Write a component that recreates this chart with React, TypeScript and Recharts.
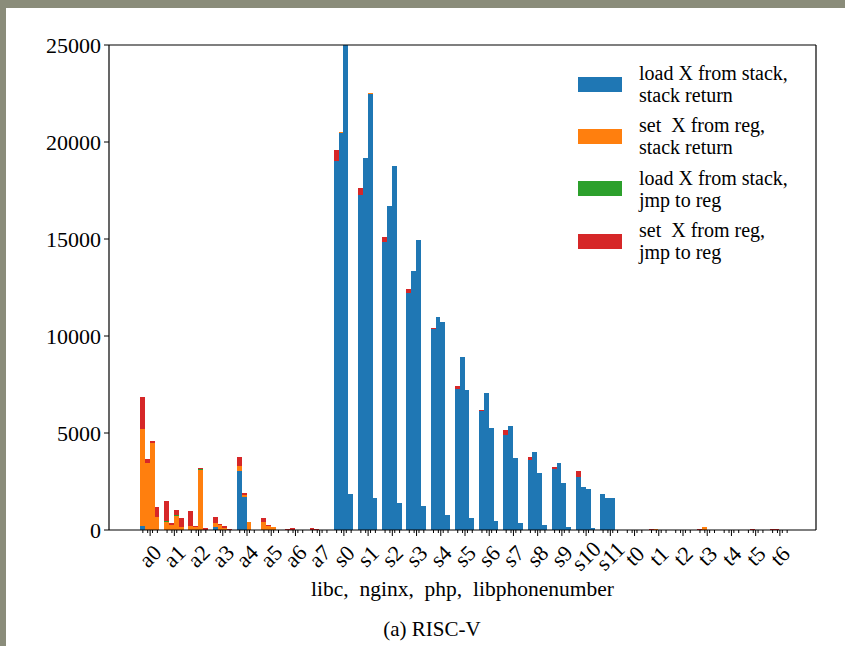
import React from 'react';
import { BarChart, Bar, XAxis, YAxis } from 'recharts';

const registers = ['a0','a1','a2','a3','a4','a5','a6','a7','s0','s1','s2','s3','s4','s5','s6','s7','s8','s9','s10','s11','t0','t1','t2','t3','t4','t5','t6'];
const programs = ['libc', 'nginx', 'php', 'libphonenumber'];
const kindLabels = [
  ['load X from stack,', 'stack return'],
  ['set  X from reg,', 'stack return'],
  ['load X from stack,', 'jmp to reg'],
  ['set  X from reg,', 'jmp to reg'],
];
const kindColors = ['#1f77b4', '#ff7f0e', '#2ca02c', '#d62728'];
const yTicks = [0, 5000, 10000, 15000, 20000, 25000];

//                 a0    a1    a2   a3   a4    a5   a6  a7  s0     s1     s2     s3     s4     s5    s6    s7    s8    s9    s10   s11   t0 t1 t2 t3 t4 t5 t6
const libcLoadRet = [200, 0, 0, 150, 3060, 0, 0, 0, 19000, 17270, 14860, 12200, 10360, 7250, 6130, 4900, 3610, 3160, 2750, 1830, 0, 0, 0, 0, 0, 0, 0];
const libcSetRet  = [5000, 400, 206, 190, 255, 395, 0, 0, 0, 0, 0, 0, 0, 0, 0, 0, 0, 0, 0, 0, 0, 0, 0, 0, 0, 0, 0];
const libcLoadJmp = [0, 50, 0, 0, 0, 0, 0, 0, 0, 0, 0, 0, 0, 0, 0, 0, 0, 0, 0, 0, 0, 0, 0, 0, 0, 0, 0];
const libcSetJmp  = [1630, 1030, 773, 340, 465, 240, 30, 90, 590, 340, 260, 200, 70, 190, 40, 250, 150, 100, 280, 30, 0, 70, 0, 40, 0, 0, 50];

const nginxLoadRet = [0, 0, 0, 0, 1720, 0, 0, 0, 20450, 19160, 16700, 13330, 10960, 8900, 7080, 5380, 4040, 3440, 2230, 1660, 0, 0, 0, 0, 0, 0, 0];
const nginxSetRet  = [3430, 258, 160, 258, 60, 210, 0, 0, 50, 0, 0, 0, 0, 0, 0, 0, 0, 0, 0, 0, 0, 30, 0, 170, 0, 0, 0];
const nginxLoadJmp = [0, 0, 0, 0, 0, 0, 0, 0, 30, 0, 0, 0, 0, 0, 0, 0, 0, 0, 0, 0, 0, 0, 0, 0, 0, 0, 0];
const nginxSetJmp  = [230, 86, 40, 50, 110, 50, 90, 40, 0, 0, 0, 0, 0, 0, 0, 0, 0, 0, 0, 0, 0, 40, 0, 0, 0, 40, 40];

const phpLoadRet = [0, 0, 0, 0, 0, 0, 0, 0, 25000, 22460, 18740, 14950, 10700, 7200, 5240, 3730, 2920, 2400, 2110, 1650, 0, 0, 0, 0, 0, 0, 0];
const phpSetRet  = [4470, 720, 3100, 120, 395, 140, 0, 0, 0, 50, 0, 0, 0, 0, 0, 0, 0, 0, 0, 0, 0, 0, 0, 0, 0, 0, 0];
const phpLoadJmp = [0, 50, 50, 0, 0, 0, 0, 0, 0, 0, 40, 0, 0, 0, 0, 0, 0, 0, 0, 0, 0, 0, 0, 0, 0, 0, 0];
const phpSetJmp  = [135, 260, 30, 86, 0, 30, 20, 0, 0, 0, 0, 0, 0, 0, 0, 0, 0, 0, 0, 0, 0, 0, 0, 0, 0, 0, 0];

const lpnLoadRet = [0, 0, 0, 0, 0, 0, 0, 0, 1850, 1650, 1390, 1240, 770, 640, 480, 380, 260, 170, 86, 0, 0, 0, 0, 0, 0, 0, 0];
const lpnSetRet  = [690, 130, 0, 0, 0, 0, 0, 0, 0, 0, 0, 0, 0, 0, 0, 0, 0, 0, 0, 0, 0, 0, 0, 0, 0, 0, 0];
const lpnLoadJmp = [0, 40, 0, 0, 0, 0, 0, 0, 0, 0, 0, 0, 0, 0, 0, 0, 0, 0, 0, 0, 0, 0, 0, 0, 0, 0, 0];
const lpnSetJmp  = [480, 430, 120, 30, 0, 0, 0, 0, 0, 0, 0, 0, 0, 0, 0, 0, 0, 0, 0, 0, 0, 0, 0, 0, 0, 0, 0];

const seriesByProgram = [
  [libcLoadRet, libcSetRet, libcLoadJmp, libcSetJmp],
  [nginxLoadRet, nginxSetRet, nginxLoadJmp, nginxSetJmp],
  [phpLoadRet, phpSetRet, phpLoadJmp, phpSetJmp],
  [lpnLoadRet, lpnSetRet, lpnLoadJmp, lpnSetJmp],
];

const data = registers.map((reg, i) => {
  const row: Record<string, any> = { reg };
  seriesByProgram.forEach((arrs, p) => {
    arrs.forEach((arr, k) => {
      row[`p${p}k${k}`] = arr[i];
    });
  });
  return row;
});

const FONT = '"Liberation Serif", "DejaVu Serif", serif';
const W = 845;
const H = 646;
const PLOT_LEFT = 109;
const PLOT_RIGHT = 816;
const PLOT_TOP = 45;
const PLOT_BOTTOM = 530;
const PAD_L = 29;
const PAD_R = 24;
const XAXIS_H = 60;
const TOP_AXIS_H = 1;
const BAND = (PLOT_RIGHT - PLOT_LEFT - PAD_L - PAD_R) / registers.length;

const XTick = (props: any) => {
  const { x, y, payload } = props;
  const bw = BAND * 0.2;
  const ly = y + 26;
  return (
    <g>
      {[0, 1, 2, 3].map((i) => {
        const cx = x + (i - 1.5) * bw;
        return <line key={i} x1={cx} x2={cx} y1={y} y2={y + 3} stroke="#000" strokeWidth={1} />;
      })}
      <line x1={x} x2={x} y1={y} y2={y + 6} stroke="#000" strokeWidth={1} />
      <text
        x={x}
        y={ly}
        transform={`rotate(-45, ${x}, ${ly})`}
        textAnchor="middle"
        dominantBaseline="central"
        fontFamily={FONT}
        fontSize={22}
        fill="#000"
      >
        {payload.value}
      </text>
    </g>
  );
};

const LegendBox = () => (
  <div style={{ position: 'absolute', left: 578, top: 58, width: 240 }}>
    {kindLabels.map((lines, k) => (
      <div key={k} style={{ display: 'flex', alignItems: 'center', height: 52.3 }}>
        <div style={{ width: 44, height: 15, background: kindColors[k], marginRight: 17, flexShrink: 0 }} />
        <div style={{ fontFamily: FONT, fontSize: 20, lineHeight: '22px', whiteSpace: 'pre', color: '#000' }}>
          {lines[0]}
          <br />
          {lines[1]}
        </div>
      </div>
    ))}
  </div>
);

export default function App() {
  return (
    <div style={{ position: 'absolute', left: 0, top: 0, width: W, height: H, background: '#8a8c7a', overflow: 'hidden' }}>
      <div style={{ position: 'absolute', left: 6, top: 8, width: W - 6, height: H - 8, background: '#fff' }} />
      <div style={{ position: 'absolute', left: 0, top: 0 }}>
        <BarChart
          width={W}
          height={H}
          data={data}
          margin={{ top: PLOT_TOP - TOP_AXIS_H, right: W - PLOT_RIGHT - 1, bottom: H - PLOT_BOTTOM - XAXIS_H, left: 0 }}
          barSize={BAND * 0.2}
          barGap={0}
        >
          <XAxis
            dataKey="reg"
            interval={0}
            height={XAXIS_H}
            padding={{ left: PAD_L, right: PAD_R }}
            tickLine={false}
            tickSize={0}
            tickMargin={0}
            axisLine={{ stroke: '#000', strokeWidth: 1.2 }}
            tick={<XTick />}
          />
          <XAxis
            xAxisId="top"
            orientation="top"
            dataKey="reg"
            height={TOP_AXIS_H}
            tick={false}
            tickLine={false}
            axisLine={{ stroke: '#000', strokeWidth: 1.2 }}
          />
          <YAxis
            width={PLOT_LEFT}
            domain={[0, 25000]}
            ticks={yTicks}
            allowDataOverflow
            interval={0}
            tickSize={5}
            tickMargin={3}
            tickLine={{ stroke: '#000' }}
            axisLine={{ stroke: '#000', strokeWidth: 1.2 }}
            tick={{ fontFamily: FONT, fontSize: 22, fill: '#000' }}
          />
          <YAxis
            yAxisId="right"
            orientation="right"
            width={1}
            domain={[0, 25000]}
            tick={false}
            tickLine={false}
            axisLine={{ stroke: '#000', strokeWidth: 1.2 }}
          />
          {programs.map((prog, p) =>
            kindColors.map((color, k) => (
              <Bar
                key={`${prog}-${k}`}
                dataKey={`p${p}k${k}`}
                stackId={prog}
                fill={color}
                shapeRendering="crispEdges"
                isAnimationActive={false}
              />
            ))
          )}
        </BarChart>
      </div>
      <LegendBox />
      <div style={{ position: 'absolute', left: PLOT_LEFT, width: PLOT_RIGHT - PLOT_LEFT, top: 577, textAlign: 'center', fontFamily: FONT, fontSize: 21.5, whiteSpace: 'pre', color: '#000' }}>
        {'libc,  nginx,  php,  libphonenumber'}
      </div>
      <div style={{ position: 'absolute', left: 232, width: 400, top: 617, textAlign: 'center', fontFamily: FONT, fontSize: 21, color: '#000' }}>
        (a) RISC-V
      </div>
    </div>
  );
}
